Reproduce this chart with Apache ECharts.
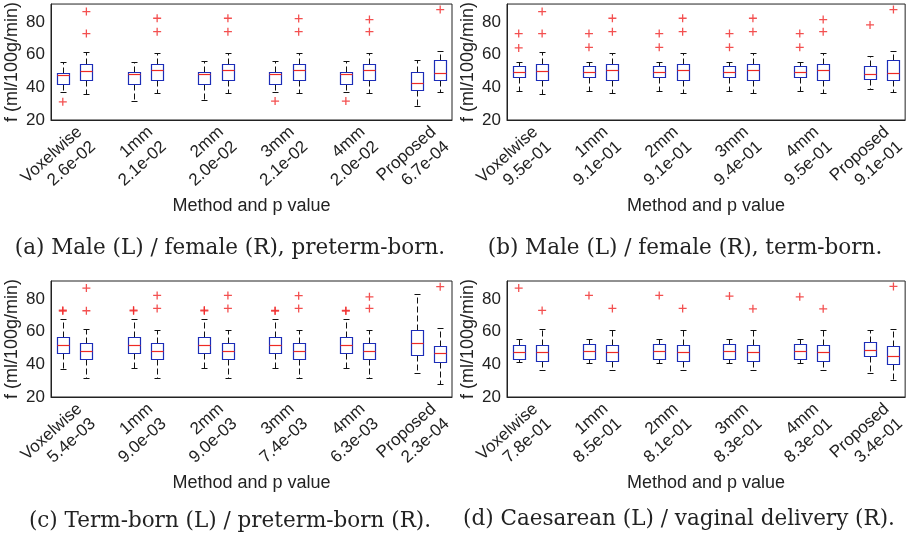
<!DOCTYPE html>
<html>
<head>
<meta charset="utf-8">
<script src="https://cdn.jsdelivr.net/npm/echarts@6/dist/echarts.min.js"></script>
<style>
  html, body { margin: 0; padding: 0; background: #fff; }
  #chart { width: 909px; height: 538px; }
</style>
</head>
<body>
<div id="chart"></div>
<script>
// methods (one pair of boxes each) and p values per panel
const methods = ['Voxelwise', '1mm', '2mm', '3mm', '4mm', 'Proposed'];
const pValuesA = ['2.6e-02', '2.1e-02', '2.0e-02', '2.1e-02', '2.0e-02', '6.7e-04'];
const pValuesB = ['9.5e-01', '9.1e-01', '9.1e-01', '9.4e-01', '9.5e-01', '9.1e-01'];
const pValuesC = ['5.4e-03', '9.0e-03', '9.0e-03', '7.4e-03', '6.3e-03', '2.3e-04'];
const pValuesD = ['7.8e-01', '8.5e-01', '8.1e-01', '8.3e-01', '8.3e-01', '3.4e-01'];

const captions = [
  '(a) Male (L) / female (R), preterm-born.',
  '(b) Male (L) / female (R), term-born.',
  '(c) Term-born (L) / preterm-born (R).',
  '(d) Caesarean (L) / vaginal delivery (R).'
];

// box stats [lower whisker, q1, median, q3, upper whisker], L box then R box per method
const boxesA = [
  [37.3, 42.2, 47.7, 48.7, 55.7], [36.1, 44.2, 50.2, 54.5, 61.6],
  [31.6, 42.2, 48.1, 49.6, 55.7], [36.5, 44.4, 50.4, 54.5, 61.2],
  [32.0, 42.2, 48.1, 49.6, 55.9], [36.5, 44.2, 50.4, 54.5, 61.2],
  [37.3, 42.2, 48.1, 49.1, 55.9], [36.5, 44.6, 50.4, 54.5, 61.2],
  [37.3, 42.2, 48.1, 49.1, 55.9], [36.5, 44.4, 50.4, 54.5, 61.2],
  [28.3, 38.1, 42.8, 49.3, 56.5], [36.9, 44.2, 48.7, 56.5, 62.0]
];
const boxesB = [
  [37.5, 46.1, 49.1, 52.8, 55.7], [36.1, 44.2, 50.2, 54.5, 61.6],
  [37.9, 46.1, 49.1, 52.8, 55.7], [36.5, 44.2, 50.4, 54.5, 61.2],
  [37.9, 46.1, 49.1, 52.8, 55.7], [36.5, 44.4, 50.4, 54.5, 61.2],
  [37.9, 46.3, 49.1, 53.2, 55.7], [36.5, 44.4, 50.4, 54.5, 61.2],
  [37.9, 46.3, 49.1, 53.2, 55.7], [36.5, 44.4, 50.4, 54.5, 61.2],
  [38.9, 44.8, 48.3, 52.8, 59.4], [36.9, 44.2, 48.7, 56.5, 62.0]
];
const boxesC = [
  [37.4, 47.2, 51.7, 57.0, 67.6], [31.7, 43.3, 48.2, 52.9, 61.5],
  [37.8, 47.2, 52.1, 57.0, 67.6], [31.7, 43.5, 48.4, 52.9, 60.9],
  [37.8, 47.2, 52.1, 57.0, 67.6], [31.7, 43.5, 48.4, 52.9, 60.9],
  [37.8, 47.2, 52.1, 57.0, 67.6], [31.7, 43.5, 48.2, 52.9, 60.9],
  [38.0, 47.2, 52.1, 57.0, 67.6], [31.7, 43.5, 48.2, 52.9, 60.9],
  [34.9, 45.8, 52.9, 60.9, 82.8], [28.2, 41.3, 46.8, 51.1, 62.1]
];
const boxesD = [
  [41.7, 43.1, 47.8, 52.1, 55.4], [36.4, 42.1, 47.6, 52.1, 61.5],
  [41.1, 43.3, 48.2, 52.7, 55.6], [36.6, 42.1, 47.6, 52.1, 60.9],
  [41.1, 43.3, 48.2, 52.7, 55.6], [36.6, 42.1, 47.6, 52.1, 60.9],
  [41.1, 43.3, 48.2, 52.7, 55.6], [36.6, 42.1, 47.6, 52.1, 60.9],
  [41.1, 43.3, 48.2, 52.7, 55.6], [36.6, 42.1, 47.6, 52.1, 60.9],
  [34.9, 44.9, 49.0, 53.5, 61.3], [30.2, 40.0, 45.4, 51.1, 61.9]
];

// outliers [box number, value]
const outliersA = [[0, 31.1], [1, 86.4], [1, 72.9], [3, 82.3], [3, 74.1], [5, 82.3], [5, 74.1],
  [6, 31.6], [7, 82.1], [7, 74.1], [8, 31.6], [9, 81.5], [9, 74.1], [11, 87.6]];
const outliersB = [[0, 72.9], [0, 64.1], [1, 86.4], [1, 72.9], [2, 72.9], [2, 64.5], [3, 82.3], [3, 74.1],
  [4, 72.9], [4, 64.5], [5, 82.3], [5, 74.1], [6, 72.9], [6, 64.5], [7, 82.3], [7, 74.1],
  [8, 72.9], [8, 64.5], [9, 81.5], [9, 74.1], [10, 78.2], [11, 87.6]];
const outliersC = [[0, 72.6], [0, 73.1], [1, 86.7], [1, 72.8], [2, 72.7], [2, 73.2], [3, 82.2], [3, 74.2],
  [4, 72.7], [4, 73.2], [5, 82.2], [5, 74.2], [6, 72.6], [6, 73.0], [7, 82.0], [7, 74.2],
  [8, 72.6], [8, 73.0], [9, 81.3], [9, 74.2], [11, 87.5]];
const outliersD = [[0, 86.7], [1, 73.0], [2, 82.2], [3, 74.2], [4, 82.2], [5, 74.2],
  [6, 81.8], [7, 74.0], [8, 81.3], [9, 74.0], [11, 87.7]];

const chart = echarts.init(document.getElementById('chart'));

const textColor = '#222';
const boxColor = '#1c2db8';
const medianColor = '#ee2a24';
const outlierColor = '#f02424';
const plusPath = 'path://M4.2,0H5.8V4.2H10V5.8H5.8V10H4.2V5.8H0V4.2H4.2Z';
const sansFont = 'Liberation Sans, Arial, sans-serif';

// 6 pairs with an empty slot between pairs -> 17 category slots
const slotCount = 17;
function slotOf(box) {
  return Math.floor(box / 2) * 3 + (box % 2);
}

function categoryLabels(pValues) {
  const labels = [];
  for (let i = 0; i < slotCount; i++) labels.push('');
  methods.forEach((m, k) => { labels[k * 3 + 1] = m + '\n' + pValues[k]; });
  return labels;
}

function px(v) { return Math.round(v) + 0.5; }

function renderBox(params, api) {
  const x = api.value(0);
  const low = api.coord([x, api.value(1)]);
  const q1 = api.coord([x, api.value(2)]);
  const med = api.coord([x, api.value(3)]);
  const q3 = api.coord([x, api.value(4)]);
  const high = api.coord([x, api.value(5)]);
  const band = api.size([1, 0])[0];
  const half = Math.round(band * 0.26);
  const cap = Math.round(band * 0.14);
  const cx = px(low[0]);
  const dashed = { stroke: '#111', lineWidth: 1, lineDash: [6, 3], fill: null };
  const solid = { stroke: '#111', lineWidth: 1, fill: null };
  const top = px(q3[1]), bottom = px(q1[1]);
  return {
    type: 'group',
    children: [
      { type: 'line', shape: { x1: cx, y1: top, x2: cx, y2: px(high[1]) }, style: dashed },
      { type: 'line', shape: { x1: cx, y1: bottom, x2: cx, y2: px(low[1]) }, style: dashed },
      { type: 'line', shape: { x1: cx - cap, y1: px(high[1]), x2: cx + cap, y2: px(high[1]) }, style: solid },
      { type: 'line', shape: { x1: cx - cap, y1: px(low[1]), x2: cx + cap, y2: px(low[1]) }, style: solid },
      { type: 'rect', shape: { x: cx - half, y: top, width: half * 2, height: bottom - top },
        style: { stroke: boxColor, lineWidth: 1.2, fill: null } },
      { type: 'line', shape: { x1: cx - half, y1: px(med[1]), x2: cx + half, y2: px(med[1]) },
        style: { stroke: medianColor, lineWidth: 1.2 } }
    ]
  };
}

const panels = [
  { left: 51, top: 4, boxes: boxesA, outliers: outliersA, p: pValuesA, width: 401 },
  { left: 507, top: 4, boxes: boxesB, outliers: outliersB, p: pValuesB, width: 400 },
  { left: 51, top: 281, boxes: boxesC, outliers: outliersC, p: pValuesC, width: 401 },
  { left: 507, top: 281, boxes: boxesD, outliers: outliersD, p: pValuesD, width: 400 }
];

const grid = [], xAxis = [], yAxis = [], series = [];
panels.forEach((pn, i) => {
  grid.push({ left: pn.left, top: pn.top, width: pn.width, height: 116, show: true,
    borderColor: '#222', borderWidth: 1, backgroundColor: 'transparent' });
  xAxis.push({
    gridIndex: i, type: 'category', data: categoryLabels(pn.p), boundaryGap: true,
    axisLine: { lineStyle: { color: '#222' } },
    axisTick: { show: false },
    axisLabel: { interval: 0, rotate: 42, margin: 17, color: textColor, fontSize: 17, lineHeight: 20,
      fontFamily: sansFont },
    name: 'Method and p value', nameLocation: 'middle', nameGap: 77, nameMoveOverlap: false,
    nameTextStyle: { color: textColor, fontSize: 18, fontFamily: sansFont }
  });
  yAxis.push({
    gridIndex: i, type: 'value', min: 20, max: 91, interval: 20,
    axisLine: { show: true, lineStyle: { color: '#222' } },
    axisTick: { show: false },
    splitLine: { show: false },
    axisLabel: { showMaxLabel: false, margin: 6, color: textColor, fontSize: 17, fontFamily: sansFont },
    name: 'f (ml/100g/min)', nameLocation: 'middle', nameGap: 30, nameMoveOverlap: false,
    nameTextStyle: { color: textColor, fontSize: 18, fontFamily: sansFont }
  });
  series.push({
    type: 'custom', xAxisIndex: i, yAxisIndex: i,
    renderItem: renderBox,
    encode: { x: 0, y: [1, 2, 3, 4, 5] },
    data: pn.boxes.map((b, k) => [slotOf(k)].concat(b)),
    silent: true
  });
  series.push({
    type: 'scatter', xAxisIndex: i, yAxisIndex: i,
    symbol: plusPath, symbolSize: 8,
    itemStyle: { color: outlierColor },
    data: pn.outliers.map(o => [slotOf(o[0]), o[1]]),
    silent: true
  });
});

const captionPos = [[230, 248], [685, 248], [230, 521], [679, 519]];
const graphic = captions.map((c, i) => ({
  type: 'text', x: captionPos[i][0], y: captionPos[i][1],
  style: { text: c, textAlign: 'center', textVerticalAlign: 'middle', fill: '#222',
    font: '21.5px "DejaVu Serif", "Liberation Serif", serif' }
}));

chart.setOption({
  animation: false,
  backgroundColor: '#fff',
  grid: grid,
  xAxis: xAxis,
  yAxis: yAxis,
  series: series,
  graphic: graphic
});
</script>
</body>
</html>
